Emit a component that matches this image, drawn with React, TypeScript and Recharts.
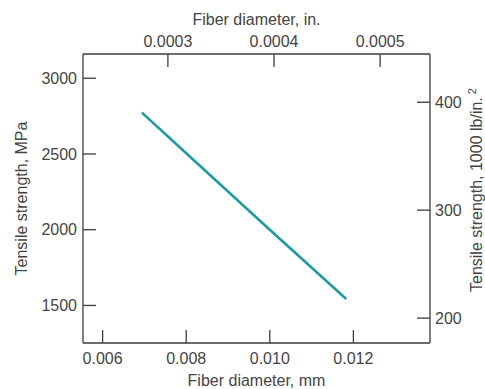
import React from "react";
import { LineChart, Line, XAxis, YAxis } from "recharts";

// Fiber diameter (mm) and tensile strength (MPa)
const diameterMm = [0.00694, 0.008, 0.01, 0.01183];
const strengthMpa = [2773, 2505, 2000, 1542];

const mmTicks = [0.006, 0.008, 0.01, 0.012];
const inTicks = [0.0003, 0.0004, 0.0005];
const mpaTicks = [1500, 2000, 2500, 3000];
const ksiTicks = [200, 300, 400];

const mmDomain = [0.00553, 0.013834];
const inDomain = [0.00022, 0.000547];
const mpaDomain = [1252, 3160];
const ksiDomain = [176.9, 444.7];

const data = diameterMm.map((mm, i) => ({ mm, mpa: strengthMpa[i] }));

const FONT = "'Liberation Sans', Arial, Helvetica, sans-serif";
const TEXT = "#444444";
const AXIS = "#3d3d3d";
const FS = 16;
const TICK = 13;

const BottomTick = (p: any) => (
  <g>
    <line x1={p.x} x2={p.x} y1={p.y} y2={p.y - TICK} stroke={AXIS} strokeWidth={1.3} />
    <text x={p.x} y={p.y + 21} textAnchor="middle" fill={TEXT} fontSize={FS} fontFamily={FONT}>
      {Number(p.payload.value).toFixed(3)}
    </text>
  </g>
);

const TopTick = (p: any) => (
  <g>
    <line x1={p.x} x2={p.x} y1={p.y} y2={p.y + TICK} stroke={AXIS} strokeWidth={1.3} />
    <text x={p.x} y={p.y - 7} textAnchor="middle" fill={TEXT} fontSize={FS} fontFamily={FONT}>
      {Number(p.payload.value).toFixed(4)}
    </text>
  </g>
);

const LeftTick = (p: any) => (
  <g>
    <line x1={p.x} x2={p.x + TICK} y1={p.y} y2={p.y} stroke={AXIS} strokeWidth={1.3} />
    <text x={p.x - 6} y={p.y + 5.7} textAnchor="end" fill={TEXT} fontSize={FS} fontFamily={FONT}>
      {p.payload.value}
    </text>
  </g>
);

const RightTick = (p: any) => (
  <g>
    <line x1={p.x} x2={p.x - TICK} y1={p.y} y2={p.y} stroke={AXIS} strokeWidth={1.3} />
    <text x={p.x + 5} y={p.y + 5.7} textAnchor="start" fill={TEXT} fontSize={FS} fontFamily={FONT}>
      {p.payload.value}
    </text>
  </g>
);

const TopLabel = (p: any) => {
  const vb = p.viewBox;
  return (
    <text x={vb.x + vb.width / 2} y={25} textAnchor="middle" fill={TEXT} fontSize={FS} fontFamily={FONT}>
      Fiber diameter, in.
    </text>
  );
};

const BottomLabel = (p: any) => {
  const vb = p.viewBox;
  return (
    <text x={vb.x + vb.width / 2} y={386} textAnchor="middle" fill={TEXT} fontSize={FS} fontFamily={FONT}>
      Fiber diameter, mm
    </text>
  );
};

const LeftLabel = (p: any) => {
  const vb = p.viewBox;
  const cx = 27;
  const cy = vb.y + vb.height / 2;
  return (
    <text
      x={cx}
      y={cy}
      transform={`rotate(-90, ${cx}, ${cy})`}
      textAnchor="middle"
      fill={TEXT}
      fontSize={FS}
      fontFamily={FONT}
    >
      Tensile strength, MPa
    </text>
  );
};

const RightLabel = (p: any) => {
  const cx = 482;
  const cy = 190;
  return (
    <text
      x={cx}
      y={cy}
      transform={`rotate(-90, ${cx}, ${cy})`}
      textAnchor="middle"
      fill={TEXT}
      fontSize={FS}
      fontFamily={FONT}
    >
      Tensile strength, 1000 lb/in.
      <tspan dy={-6} fontSize={11}>
        {" 2"}
      </tspan>
    </text>
  );
};

export default function App() {
  return (
    <div style={{ position: "absolute", left: 0, top: 0, background: "#fff" }}>
      <LineChart
        width={485}
        height={389}
        data={data}
        margin={{ top: 0, right: 0, bottom: 0, left: 0 }}
      >
        <XAxis
          xAxisId="b"
          type="number"
          dataKey="mm"
          orientation="bottom"
          domain={mmDomain}
          ticks={mmTicks}
          allowDataOverflow
          height={46}
          tickSize={0}
          tickMargin={0}
          tick={<BottomTick />}
          axisLine={{ stroke: AXIS, strokeWidth: 1.3 }}
          tickLine={false}
          interval={0}
          label={{ content: <BottomLabel /> }}
        />
        <XAxis
          xAxisId="t"
          type="number"
          dataKey="mm"
          orientation="top"
          domain={inDomain}
          ticks={inTicks}
          allowDataOverflow
          height={54}
          tickSize={0}
          tickMargin={0}
          tick={<TopTick />}
          axisLine={{ stroke: AXIS, strokeWidth: 1.3 }}
          tickLine={false}
          interval={0}
          label={{ content: <TopLabel /> }}
        />
        <YAxis
          yAxisId="l"
          type="number"
          dataKey="mpa"
          orientation="left"
          domain={mpaDomain}
          ticks={mpaTicks}
          allowDataOverflow
          width={83}
          tickSize={0}
          tickMargin={0}
          tick={<LeftTick />}
          axisLine={{ stroke: AXIS, strokeWidth: 1.3 }}
          tickLine={false}
          interval={0}
          label={{ content: <LeftLabel /> }}
        />
        <YAxis
          yAxisId="r"
          type="number"
          dataKey="mpa"
          orientation="right"
          domain={ksiDomain}
          ticks={ksiTicks}
          allowDataOverflow
          width={55}
          tickSize={0}
          tickMargin={0}
          tick={<RightTick />}
          axisLine={{ stroke: AXIS, strokeWidth: 1.3 }}
          tickLine={false}
          interval={0}
          label={{ content: <RightLabel /> }}
        />
        <Line
          xAxisId="b"
          yAxisId="l"
          type="linear"
          dataKey="mpa"
          stroke="#1e9aa0"
          strokeWidth={2.6}
          dot={false}
          isAnimationActive={false}
        />
      </LineChart>
    </div>
  );
}
